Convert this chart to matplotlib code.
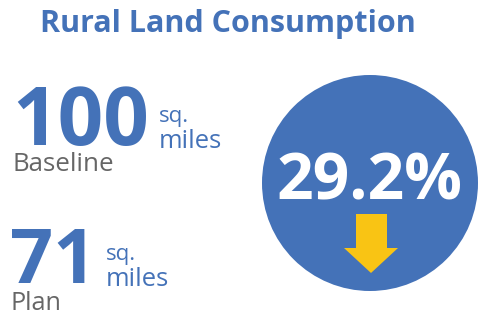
import matplotlib
matplotlib.use('Agg')
import matplotlib.pyplot as plt
from matplotlib.patches import Circle, Polygon

# Data
title = 'Rural Land Consumption'
scenarios = ['Baseline', 'Plan']
areas = [100, 71]
unit = 'sq.\nmiles'
change_pct = 29.2

# Colours
blue = '#4472B8'
grey = '#666666'
yellow = '#F9C414'

plt.rcParams['font.family'] = ['Open Sans', 'DejaVu Sans']
CAP = 0.714  # Open Sans cap height, in em

W, H = 479, 315
fig = plt.figure(figsize=(W / 100, H / 100), dpi=100)
ax = fig.add_axes([0, 0, 1, 1])
ax.set_xlim(0, W)
ax.set_ylim(H, 0)
ax.axis('off')
renderer = fig.canvas.get_renderer()


# Put text at (x, y baseline) and scale its font so its width matches
def fit_text(x, y, s, width, ha='left', **kw):
    t = ax.text(x, y, s, fontsize=20, ha=ha, va='baseline', **kw)
    w = t.get_window_extent(renderer).width
    t.set_fontsize(20 * width / w)
    return t


# Same, but size the font from the wanted cap height in pixels
def cap_text(x, y, s, cap_px, ha='left', **kw):
    return ax.text(x, y, s, fontsize=cap_px / CAP * 0.72, ha=ha, va='baseline', **kw)


# Title
fit_text(228, 32, title, 376, ha='center', color=blue, fontweight='bold')

# Big numbers, units and labels
num_x = [12, 10]
num_cap = [57, 54]
num_base = [145, 283]
label_base = [171, 310]
label_w = [101, 51]
sq, miles = unit.split('\n')
for i, (name, val) in enumerate(zip(scenarios, areas)):
    t = cap_text(num_x[i], num_base[i], str(val), num_cap[i], color=blue,
                 fontweight='bold')
    right = ax.transData.inverted().transform(
        t.get_window_extent(renderer).corners()[-1])[0]
    ux = right + 10
    fit_text(ux, num_base[i] - 23, sq, 30, color=blue)
    fit_text(ux, num_base[i] + 3, miles, 63, color=blue)
    fit_text(num_x[i] + 1, label_base[i], name, label_w[i], color=grey)

# Circle with percentage change
ax.add_patch(Circle((370, 183), 108, color=blue, lw=0))
fit_text(370, 200, f'{change_pct}%', 186, ha='center', color='white', fontweight='bold')

# Down arrow
arrow = Polygon([(356, 214), (387, 214), (387, 248), (398, 248), (371, 273),
                 (344, 248), (356, 248)], closed=True, color=yellow, lw=0)
ax.add_patch(arrow)

fig.savefig('out.png', dpi=100)
